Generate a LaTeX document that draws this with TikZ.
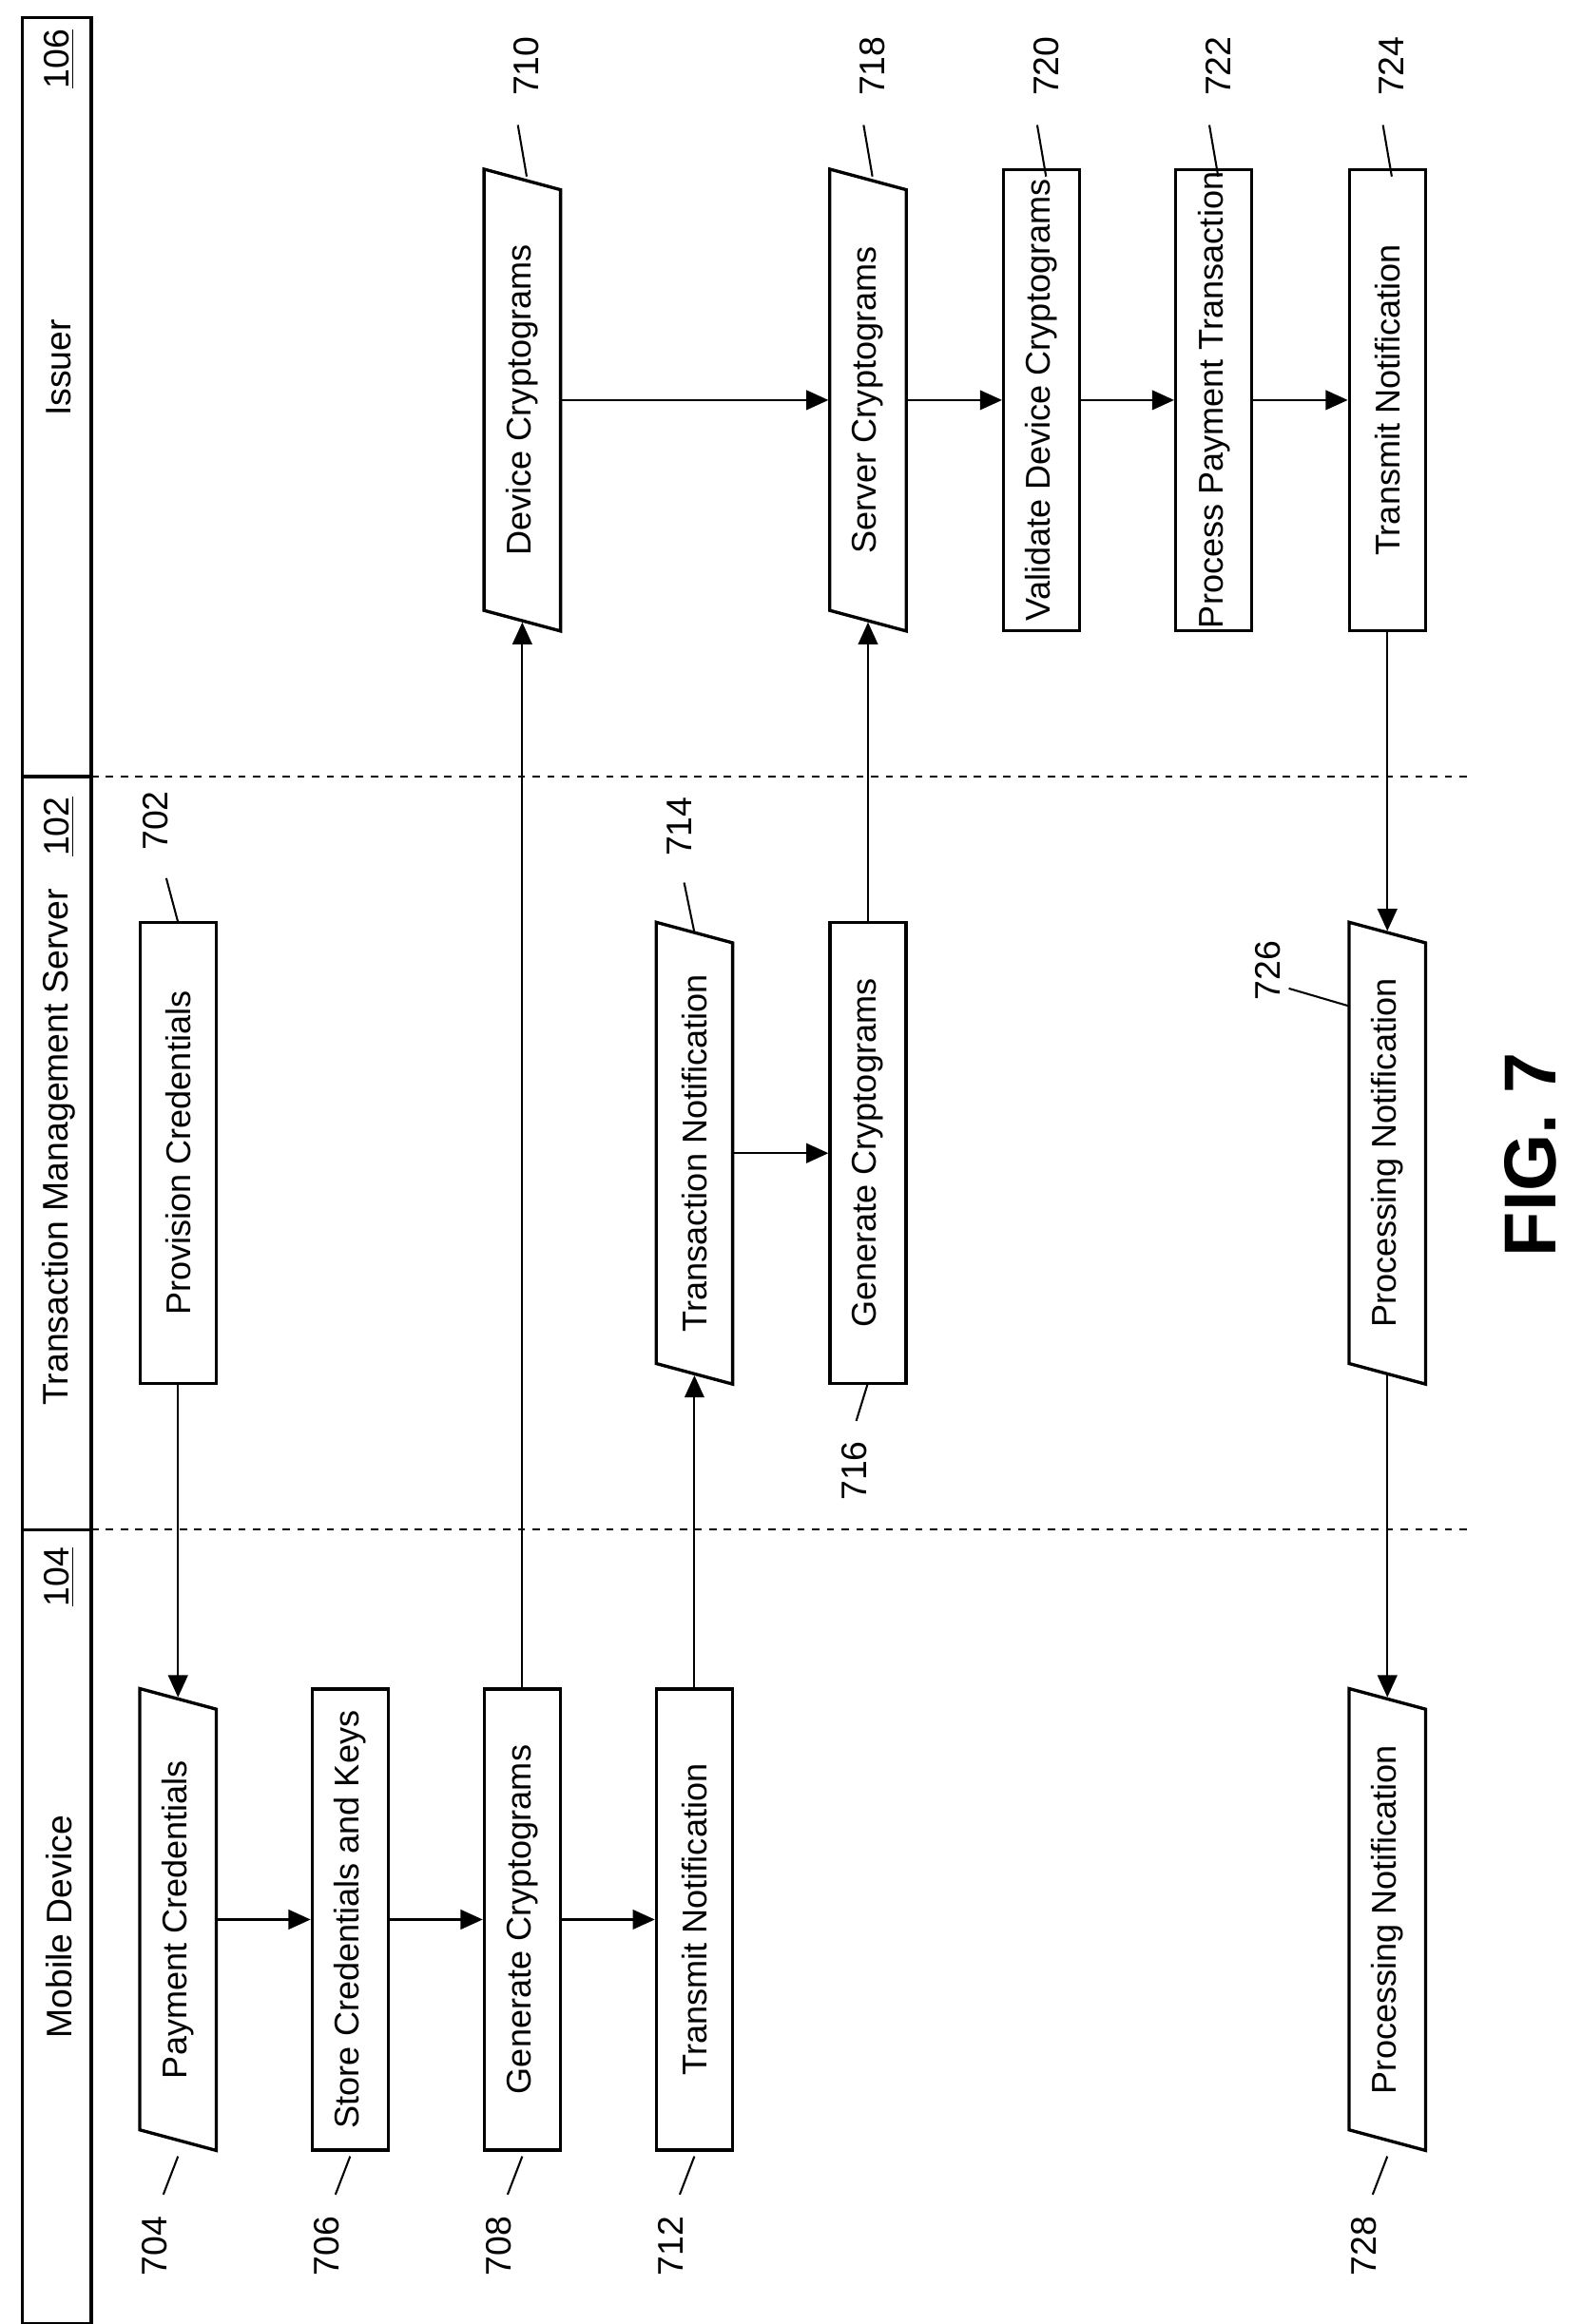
\documentclass[tikz,border=0pt]{standalone}
\usepackage{fontspec}
\setmainfont{Liberation Sans}
\usetikzlibrary{calc, arrows.meta}
\tikzset{box/.style={draw,line width=1.3pt,rotate=90,minimum width=188pt,minimum height=31pt,inner sep=0pt,font=\fontsize{14}{16}\selectfont},
         io/.style={box,draw=none,minimum width=180pt},
         ref/.style={rotate=90,font=\fontsize{14.5}{16}\selectfont},
         flow/.style={line width=0.8pt,-{Triangle[length=9pt,width=8pt]}},
        }

\begin{document}
\begin{tikzpicture}[x=0.6pt,y=-0.6pt]
        \useasboundingbox (0,0) rectangle (1075,1580);
        % lane header
        \draw[line width=1.3pt] (15,12) rectangle (62,1580);
        \draw[line width=1.3pt] (15,528) -- (62,528) (15,1040) -- (62,1040);
        \draw[dashed,line width=0.8pt] (62,528) -- (1000,528) (62,1040) -- (1000,1040);
        \node[ref](hIss)at(40,250){Issuer};
        \node[ref](nIss)at(40,40){\underline{106}};
        \node[ref](hTms)at(40,780){Transaction Management Server};
        \node[ref](nTms)at(40,562){\underline{102}};
        \node[ref](hMob)at(40,1310){Mobile Device};
        \node[ref](nMob)at(40,1072){\underline{104}};

        % issuer
        \node[io](dcr)at(355,272){Device Cryptograms};
        \node[io](scr)at(590,272){Server Cryptograms};
        \node[box](val)at(708,272){Validate Device Cryptograms};
        \node[box](ppt)at(825,272){Process Payment Transaction};
        \node[box](tni)at(943,272){Transmit Notification};
        % server
        \node[box](prv)at(121,784){Provision Credentials};
        \node[io](tnf)at(472,784){Transaction Notification};
        \node[box](gcs)at(590,784){Generate Cryptograms};
        \node[io](pns)at(943,784){Processing Notification};
        % mobile
        \node[io](pay)at(121,1305){Payment Credentials};
        \node[box](sto)at(238,1305){Store Credentials and Keys};
        \node[box](gcm)at(355,1305){Generate Cryptograms};
        \node[box](tnm)at(472,1305){Transmit Notification};
        \node[io](pnm)at(943,1305){Processing Notification};

        \foreach \n in {dcr,scr,tnf,pns,pay,pnm}
          \draw[line width=1.3pt] ($(\n.center)+(-26,-157)$) -- ($(\n.center)+(26,-143)$)
            -- ($(\n.center)+(26,157)$) -- ($(\n.center)+(-26,143)$) -- cycle;

        \draw[flow](pay)--(sto);
        \draw[flow](sto)--(gcm);
        \draw[flow](gcm)--(tnm);
        \draw[flow](prv)--(pay);
        \draw[flow](gcm)--(dcr);
        \draw[flow](tnm)--(tnf);
        \draw[flow](tnf)--(gcs);
        \draw[flow](gcs)--(scr);
        \draw[flow](dcr)--(scr);
        \draw[flow](scr)--(val);
        \draw[flow](val)--(ppt);
        \draw[flow](ppt)--(tni);
        \draw[flow](tni)--(pns);
        \draw[flow](pns)--(pnm);

        % reference numbers
        \foreach \n/\x/\t in {r710/355/710,r718/590/718,r720/708/720,r722/825/722,r724/943/724}{
          \node[ref](\n)at(\x+3,45){\t};
          \draw[line width=0.8pt] (\x-3,85) -- (\x+3,120);
        }
        \foreach \n/\x/\t in {r704/121/704,r706/238/706,r708/355/708,r712/472/712,r728/943/728}{
          \node[ref](\n)at(\x-16,1527){\t};
          \draw[line width=0.8pt] (\x-10,1492) -- (\x,1466);
        }
        \node[ref](r702)at(106,558){702};
        \draw[line width=0.8pt] (113,597) -- (121,627);
        \node[ref](r714)at(462,562){714};
        \draw[line width=0.8pt] (465,600) -- (472,634);
        \node[ref](r716)at(581,1000){716};
        \draw[line width=0.8pt] (582,966) -- (590,940);
        \node[ref](r726)at(862,660){726};
        \draw[line width=0.8pt] (876,672) -- (917,684);

        \node[rotate=90,font=\bfseries\fontsize{30}{34}\selectfont](fig)at(1040,785){FIG. 7};
\end{tikzpicture}
\end{document}
